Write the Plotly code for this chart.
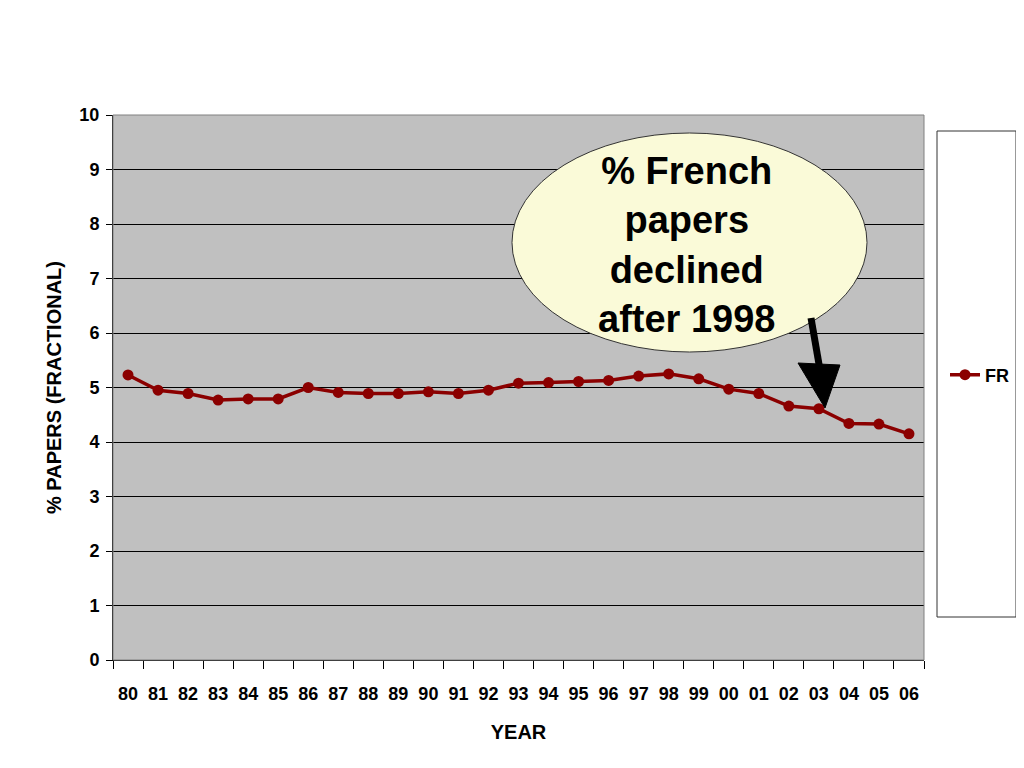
import plotly.graph_objects as go

years = ["80", "81", "82", "83", "84", "85", "86", "87", "88", "89", "90", "91", "92", "93",
         "94", "95", "96", "97", "98", "99", "00", "01", "02", "03", "04", "05", "06"]
fr = [5.23, 4.95, 4.89, 4.77, 4.79, 4.79, 5.00, 4.91, 4.89, 4.89, 4.92, 4.89, 4.95, 5.08,
      5.09, 5.11, 5.13, 5.21, 5.25, 5.16, 4.97, 4.89, 4.66, 4.61, 4.34, 4.33, 4.15]
y_ticks = list(range(0, 11))

SANS = "Liberation Sans, Arial, sans-serif"
RED = "#8B0000"

# plot area in page pixels (page has an 8px body margin)
L, R, T, B = 113, 924, 115, 660
OFF = 8
W, H = R - L, B - T


def px(x):
    return (x - L) / W


def py(y):
    return (B - y) / H


fig = go.Figure()
fig.add_trace(go.Scatter(
    x=years, y=fr, name="FR", mode="lines+markers",
    line=dict(color=RED, width=3.5),
    marker=dict(color=RED, size=11),
))

shapes = [
    dict(type="rect", xref="paper", yref="paper", x0=0, x1=1, y0=0, y1=1,
         line=dict(color="#808080", width=1), layer="above"),
    dict(type="rect", xref="paper", yref="paper", x0=px(937), x1=px(1016), y0=py(617), y1=py(131),
         line=dict(color="#333333", width=1), fillcolor="white"),
    dict(type="circle", xref="paper", yref="paper", x0=px(512), x1=px(867), y0=py(352), y1=py(133),
         line=dict(color="#333333", width=1), fillcolor="#FAFAD8", layer="above"),
    dict(type="line", xref="paper", yref="paper", x0=px(811), y0=py(318), x1=px(820), y1=py(370),
         line=dict(color="black", width=7), layer="above"),
    dict(type="path", xref="paper", yref="paper",
         path=f"M {px(798)} {py(363)} L {px(840)} {py(365)} L {px(825)} {py(408)} Z",
         fillcolor="black", line=dict(color="black", width=1), layer="above"),
]

annotations = [
    dict(xref="paper", yref="paper", x=px(686), y=py(245), showarrow=False,
         text="<b>% French<br>papers<br>declined<br>after 1998</b>",
         font=dict(family=SANS, size=38, color="black"), align="center",
         xanchor="center", yanchor="middle"),
]

fig.update_layout(
    width=1024, height=768,
    margin=dict(l=L - OFF, r=1024 + OFF - R, t=T - OFF, b=768 + OFF - B),
    paper_bgcolor="white", plot_bgcolor="#C0C0C0",
    shapes=shapes, annotations=annotations,
    showlegend=True,
    legend=dict(x=px(945), y=py(375), xanchor="left", yanchor="middle",
                bgcolor="rgba(0,0,0,0)", font=dict(family=SANS, size=18, color="black", weight="bold"),
                itemwidth=30),
    xaxis=dict(
        type="category", range=[-0.5, 26.5],
        showgrid=False, zeroline=False,
        showline=True, linecolor="black", linewidth=1,
        ticks="outside", tickson="boundaries", ticklen=8, tickcolor="black",
        tickfont=dict(family=SANS, size=18, color="black", weight="bold"),
        ticklabelstandoff=17,
        title=dict(text="YEAR", font=dict(family=SANS, size=20, color="black", weight="bold"),
                   standoff=22),
    ),
    yaxis=dict(
        range=[0, 10], tickvals=y_ticks,
        showgrid=True, gridcolor="black", gridwidth=1,
        zeroline=False,
        showline=True, linecolor="black", linewidth=1,
        ticks="outside", ticklen=6, tickcolor="black",
        tickfont=dict(family=SANS, size=18, color="black", weight="bold"),
        ticklabelstandoff=3,
        title=dict(text="% PAPERS (FRACTIONAL)",
                   font=dict(family=SANS, size=20, color="black", weight="bold"),
                   standoff=12),
    ),
)

fig.write_html("out.html")
